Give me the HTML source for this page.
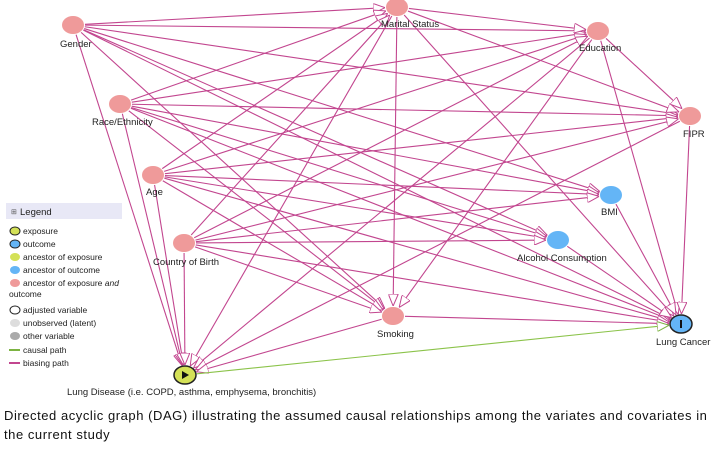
<!DOCTYPE html>
<html><head><meta charset="utf-8"><style>
body{margin:0;background:#fff;width:716px;height:452px;overflow:hidden;font-family:"Liberation Sans",Arial,sans-serif}
svg{position:absolute;left:0;top:0}
.l{font-size:9.5px;fill:#222}
.cap{position:absolute;left:4px;top:406px;font-size:13px;letter-spacing:0.55px;line-height:19px;color:#111;width:712px;white-space:nowrap}
</style></head><body>
<svg id="g" width="716" height="452" xmlns="http://www.w3.org/2000/svg">
<defs>
<marker id="ap" viewBox="0 0 12 10" refX="12" refY="5" markerWidth="12" markerHeight="10" markerUnits="userSpaceOnUse" orient="auto"><path d="M0,0 L12,5 L0,10 Z" fill="#fff" stroke="#c2468f" stroke-width="1"/></marker>
<marker id="ag" viewBox="0 0 12 10" refX="12" refY="5" markerWidth="12" markerHeight="10" markerUnits="userSpaceOnUse" orient="auto"><path d="M0,0 L12,5 L0,10 Z" fill="#fff" stroke="#7cb342" stroke-width="1"/></marker>
</defs>
<g id="edges"></g>
<g id="nodes"></g>
<text class="l" x="60" y="47">Gender</text>
<text class="l" x="381" y="27">Marital Status</text>
<text class="l" x="579" y="51">Education</text>
<text class="l" x="92" y="125">Race/Ethnicity</text>
<text class="l" x="683" y="137">FIPR</text>
<text class="l" x="146" y="195">Age</text>
<text class="l" x="601" y="215">BMI</text>
<text class="l" x="153" y="265">Country of Birth</text>
<text class="l" x="517" y="261">Alcohol Consumption</text>
<text class="l" x="377" y="337">Smoking</text>
<text class="l" x="656" y="345">Lung Cancer</text>
<text class="l" x="67" y="395">Lung Disease (i.e. COPD, asthma, emphysema, bronchitis)</text>
<rect x="6" y="203" width="116" height="16" fill="#e8e8f6"/>
<text x="11" y="214" font-size="7" fill="#555">⊞</text>
<text class="l" x="20" y="215" font-size="9">Legend</text>
<g font-size="8.5" fill="#222">
<ellipse cx="15" cy="231" rx="5" ry="4" fill="#d4e157" stroke="#222"/><text x="23" y="234">exposure</text>
<ellipse cx="15" cy="244" rx="5" ry="4" fill="#64b5f6" stroke="#222"/><text x="23" y="247">outcome</text>
<ellipse cx="15" cy="257" rx="5" ry="4" fill="#d4e157"/><text x="23" y="260">ancestor of exposure</text>
<ellipse cx="15" cy="270" rx="5" ry="4" fill="#64b5f6"/><text x="23" y="273">ancestor of outcome</text>
<ellipse cx="15" cy="283" rx="5" ry="4" fill="#ef9a9a"/><text x="23" y="286">ancestor of exposure <tspan font-style="italic">and</tspan></text>
<text x="9" y="297">outcome</text>
<ellipse cx="15" cy="310" rx="5" ry="4" fill="#fff" stroke="#222"/><text x="23" y="313">adjusted variable</text>
<ellipse cx="15" cy="323" rx="5" ry="4" fill="#ddd"/><text x="23" y="326">unobserved (latent)</text>
<ellipse cx="15" cy="336" rx="5" ry="4" fill="#aaa"/><text x="23" y="339">other variable</text>
<line x1="9" y1="350" x2="20" y2="350" stroke="#7cb342" stroke-width="2"/><text x="23" y="353">causal path</text>
<line x1="9" y1="363" x2="20" y2="363" stroke="#c2468f" stroke-width="2"/><text x="23" y="366">biasing path</text>
</g>
</svg>
<div class="cap">Directed acyclic graph (DAG) illustrating the assumed causal relationships among the variates and covariates in<br>the current study</div>
<script>
var N={G:[73,25],M:[397,7],E:[598,31],R:[120,104],F:[690,116],A:[153,175],B:[611,195],C:[184,243],AL:[558,240],S:[393,316],LC:[681,324],LD:[185,375]};
var E=[];
["G","R","A","C"].forEach(function(s){["M","E","F","B","AL","S","LC","LD"].forEach(function(t){E.push([s,t])})});
[["M","E"],["M","F"],["M","S"],["M","LC"],["M","LD"],["E","F"],["E","S"],["E","LC"],["E","LD"],["F","LC"],["F","LD"],["B","LC"],["AL","LC"],["S","LC"],["S","LD"]].forEach(function(e){E.push(e)});
var ns="http://www.w3.org/2000/svg",ge=document.getElementById("edges"),gn=document.getElementById("nodes");
function add(a,b,g){var p=N[a],q=N[b],dx=q[0]-p[0],dy=q[1]-p[1],d=Math.sqrt(dx*dx+dy*dy);
var rx=12,ry=10,t=1/Math.sqrt((dx/d/rx)*(dx/d/rx)+(dy/d/ry)*(dy/d/ry));
var l=document.createElementNS(ns,"line");
l.setAttribute("x1",p[0]+dx/d*t);l.setAttribute("y1",p[1]+dy/d*t);
l.setAttribute("x2",q[0]-dx/d*t);l.setAttribute("y2",q[1]-dy/d*t);
l.setAttribute("stroke",g?"#8bc34a":"#c2468f");l.setAttribute("stroke-width","1.1");
l.setAttribute("marker-end",g?"url(#ag)":"url(#ap)");ge.appendChild(l);}
E.forEach(function(e){add(e[0],e[1])});add("LD","LC",1);
for(var k in N){var el=document.createElementNS(ns,"ellipse");el.setAttribute("cx",N[k][0]);el.setAttribute("cy",N[k][1]);el.setAttribute("rx",11);el.setAttribute("ry",9);
var f=(k=="B"||k=="AL")?"#64b5f6":k=="LC"?"#64b5f6":k=="LD"?"#d4e157":"#ef9a9a";el.setAttribute("fill",f);
if(k=="LC"||k=="LD"){el.setAttribute("stroke","#222");el.setAttribute("stroke-width","1.5")}gn.appendChild(el);}
var t=document.createElementNS(ns,"path");t.setAttribute("d","M182,371 L189,375 L182,379Z");t.setAttribute("fill","#111");gn.appendChild(t);
var r=document.createElementNS(ns,"rect");r.setAttribute("x",680);r.setAttribute("y",320);r.setAttribute("width",2);r.setAttribute("height",8);r.setAttribute("fill","#111");gn.appendChild(r);
</script>
</body></html>
